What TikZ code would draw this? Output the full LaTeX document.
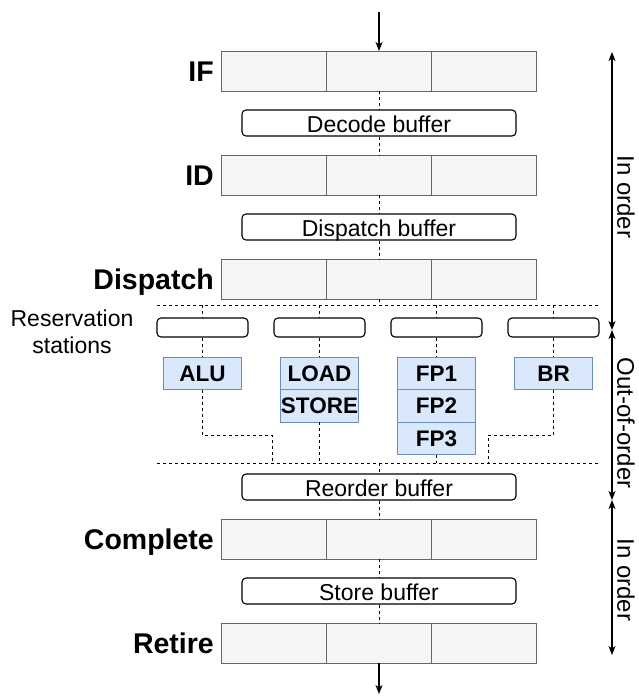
\documentclass[tikz,border=0pt]{standalone}
\usepackage{fontspec}
\setmainfont{Liberation Sans}
\usetikzlibrary{arrows.meta}

\definecolor{cellfill}{HTML}{F5F5F5}
\definecolor{celldraw}{HTML}{666666}
\definecolor{fufill}{HTML}{DAE8FC}
\definecolor{fudraw}{HTML}{6C8EBF}

\tikzset{
  cell/.style={draw=celldraw, fill=cellfill, line width=1pt,
    minimum width=104.67pt, minimum height=40pt, inner sep=0pt, outer sep=0pt},
  stagelabel/.style={font=\fontsize{28.5}{32}\selectfont\bfseries,
    inner sep=0pt, text height=20.4pt, text depth=0pt},
  buf/.style={draw=black, fill=white, rounded corners=4pt, line width=1.1pt,
    minimum width=274pt, minimum height=26pt, inner sep=0pt,
    font=\fontsize{23}{26}\selectfont, text height=19.5pt, text depth=0pt},
  rs/.style={draw=black, fill=white, rounded corners=4pt, line width=1.1pt,
    minimum width=91pt, minimum height=19pt, inner sep=0pt},
  fu/.style={draw=fudraw, fill=fufill, line width=1pt,
    minimum width=78pt, minimum height=32.5pt, inner sep=0pt, outer sep=0pt,
    font=\fontsize{22.5}{26}\selectfont\bfseries, text height=16.1pt, text depth=0pt},
  flow/.style={draw=black, line width=1pt, dash pattern=on 3pt off 3pt},
  arr/.style={draw=black, line width=1.2pt, -{Stealth[length=9pt,width=7pt,inset=2.5pt]}},
  arrboth/.style={draw=black, line width=1.2pt,
    {Stealth[length=9pt,width=7pt,inset=2.5pt]}-{Stealth[length=9pt,width=7pt,inset=2.5pt]}},
  side/.style={font=\fontsize{24}{28}\selectfont, inner sep=0pt,
    text height=17.2pt, text depth=0pt, rotate=-90},
}

\begin{document}
\begin{tikzpicture}[x=1pt,y=-1pt]
\useasboundingbox (0,0) rectangle (638,696);

% pipeline stages: three slots each, with the stage name on the left
\foreach \n/\y/\t in {IF/71/IF, ID/175/ID, DP/279/Dispatch, CP/539/Complete, RT/643/Retire}{
  \node[cell] (\n1) at (274.33,\y) {};
  \node[cell] (\n2) at (379,\y) {};
  \node[cell] (\n3) at (483.67,\y) {};
  \node[stagelabel, anchor=east] (\n-lbl) at (214,\y) {\t};
}

% buffers between stages
\node[buf] (DB)  at (379,123) {Decode buffer};
\node[buf] (DPB) at (379,227) {Dispatch buffer};
\node[buf] (ROB) at (379,487) {Reorder buffer};
\node[buf] (SB)  at (379,591) {Store buffer};

% reservation stations
\node[rs] (RS1) at (202.5,327.5) {};
\node[rs] (RS2) at (319.5,327.5) {};
\node[rs] (RS3) at (436.5,327.5) {};
\node[rs] (RS4) at (553.5,327.5) {};
\node[font=\fontsize{23}{26.5}\selectfont, align=center, inner sep=0pt]
  (rslbl) at (72,331.7) {Reservation\\stations};

% functional units
\node[fu] (ALU)   at (202.5,373.25) {ALU};
\node[fu] (LOAD)  at (319.5,373.25) {LOAD};
\node[fu] (STORE) at (319.5,405.75) {STORE};
\node[fu] (FP1)   at (436.5,373.25) {FP1};
\node[fu] (FP2)   at (436.5,405.75) {FP2};
\node[fu] (FP3)   at (436.5,438.25) {FP3};
\node[fu] (BR)    at (553.5,373.25) {BR};

% out-of-order region boundaries
\coordinate (L1w) at (157,305);
\coordinate (L1e) at (598,305);
\coordinate (L2w) at (157,463);
\coordinate (L2e) at (598,463);
\draw[flow] (L1w) -- (L1e);
\draw[flow] (L2w) -- (L2e);

% in-order flow
\draw[flow] (IF2.south) -- (DB.north);
\draw[flow] (DB.south) -- (ID2.north);
\draw[flow] (ID2.south) -- (DPB.north);
\draw[flow] (DPB.south) -- (DP2.north);
\draw[flow] (DP2.south) -- (DP2.south |- L1w);

% issue to the units
\foreach \i/\f in {1/ALU,2/LOAD,3/FP1,4/BR}{
  \draw[flow] (RS\i.north |- L1w) -- (RS\i.north);
  \draw[flow] (RS\i.south) -- (\f.north);
}

% results back to the reorder buffer
\coordinate (mA) at (272.5,435);
\coordinate (mB) at (488,435);
\draw[flow] (ALU.south) |- (mA) -- (mA |- L2w);
\draw[flow] (BR.south) |- (mB) -- (mB |- L2w);
\draw[flow] (STORE.south) -- (STORE.south |- L2w);
\draw[flow] (FP3.south) -- (FP3.south |- L2w);
\draw[flow] (ROB.north |- L2w) -- (ROB.north);
\draw[flow] (ROB.south) -- (CP2.north);
\draw[flow] (CP2.south) -- (SB.north);
\draw[flow] (SB.south) -- (RT2.north);

% entry and exit
\coordinate (in) at (379,12);
\coordinate (out) at (379,694);
\draw[arr] (in) -- (IF2.north);
\draw[arr] (RT2.south) -- (out);

% ordering ranges on the right
\coordinate (s1) at (612,52);
\coordinate (s2) at (612,330);
\coordinate (s3) at (612,500);
\coordinate (s4) at (612,655);
\draw[arrboth] (s1) -- (s2);
\draw[arrboth] (s2) -- (s3);
\draw[arrboth] (s3) -- (s4);
\node[side] (o1) at (626,197) {In order};
\node[side] (o2) at (626,423) {Out-of-order};
\node[side] (o3) at (626,580) {In order};
\end{tikzpicture}
\end{document}
